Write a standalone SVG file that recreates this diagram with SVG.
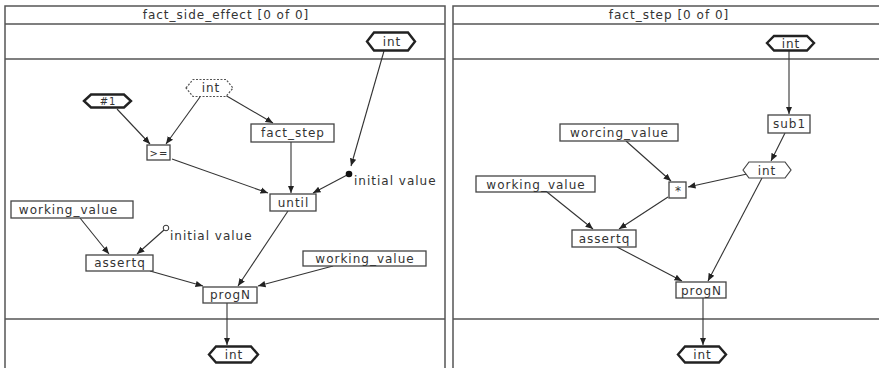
<svg xmlns="http://www.w3.org/2000/svg" width="879" height="368" viewBox="0 0 879 368">
<style>
  text { font-family: "DejaVu Sans", "Liberation Sans", sans-serif; font-size: 12px; fill: #333; letter-spacing: 1px; }
  .t { text-anchor: middle; }
  .frame { fill: none; stroke: #555; stroke-width: 1.5; }
  .box { fill: #fff; stroke: #444; stroke-width: 1.3; }
  .hexT { fill: #fff; stroke: #222; stroke-width: 2.4; }
  .hex { fill: #fff; stroke: #444; stroke-width: 1.2; }
  .hexD { fill: #fff; stroke: #555; stroke-width: 1.2; stroke-dasharray: 2 1.5; }
  .e { fill: none; stroke: #333; stroke-width: 1.1; marker-end: url(#arr); }
</style>
<defs>
  <marker id="arr" markerUnits="userSpaceOnUse" markerWidth="8" markerHeight="8" viewBox="0 0 8 8" refX="7.5" refY="4" orient="auto">
    <path d="M0,0.8 L7.5,4 L0,7.2 Z" fill="#222"/>
  </marker>
</defs>
<rect width="879" height="368" fill="#fff"/>

<g id="frames">
  <path class="frame" d="M5,368 V6 H445 V368 M5,24 H445 M5,59 H445 M5,319 H445"/>
  <path class="frame" d="M453,368 V6 H879 M453,24 H879 M453,59 H879 M453,319 H879"/>
  <text class="t" x="226" y="19">fact_side_effect [0 of 0]</text>
  <text class="t" x="669" y="19">fact_step [0 of 0]</text>
</g>

<g id="connectors">
  <!-- left -->
  <path class="e" d="M384,51 L351,166"/>
  <path class="e" d="M349,174 L313,193"/>
  <path class="e" d="M117,109 L150,144"/>
  <path class="e" d="M200,97 L166,144"/>
  <path class="e" d="M225,95 L273,123"/>
  <path class="e" d="M291,142 L291,193"/>
  <path class="e" d="M172,159 L268,193"/>
  <path class="e" d="M80,218 L109,254"/>
  <path class="e" d="M164,230 L137,254"/>
  <path class="e" d="M288,211 L238,286"/>
  <path class="e" d="M150,271 L203,286"/>
  <path class="e" d="M333,266 L258,286"/>
  <path class="e" d="M227,303 L227,345"/>
  <!-- right -->
  <path class="e" d="M789,51 L789,114"/>
  <path class="e" d="M785,133 L771,161"/>
  <path class="e" d="M747,174 L688,187"/>
  <path class="e" d="M626,141 L671,181"/>
  <path class="e" d="M547,192 L593,229"/>
  <path class="e" d="M668,197 L619,229"/>
  <path class="e" d="M762,178 L708,281"/>
  <path class="e" d="M617,247 L682,281"/>
  <path class="e" d="M703,298 L703,345"/>
</g>

<!-- left panel nodes -->
<g id="L_in_int">
  <polygon class="hexT" points="367,41.5 374,32.5 408,32.5 415,41.5 408,50.5 374,50.5"/>
  <text class="t" x="392" y="46">int</text>
</g>
<g id="L_const1">
  <polygon class="hexT" points="84,101 91,94.5 124,94.5 131,101 124,107.5 91,107.5"/>
  <text class="t" x="108" y="105" style="font-size:10px">#1</text>
</g>
<g id="L_dotted_int">
  <polygon class="hexD" points="186,88 193,79.5 226,79.5 233,88 226,96.5 193,96.5"/>
  <text class="t" x="211" y="92">int</text>
</g>
<g id="L_fact_step">
  <rect class="box" x="251" y="124" width="83" height="18"/>
  <text class="t" x="293" y="137">fact_step</text>
</g>
<g id="L_ge">
  <rect class="box" x="147" y="145" width="23" height="15"/>
  <text class="t" x="159" y="157" style="font-size:10px">&gt;=</text>
</g>
<g id="L_until">
  <rect class="box" x="270" y="194" width="46" height="17"/>
  <text class="t" x="293.5" y="207">until</text>
</g>
<g id="L_init_dot">
  <circle cx="349" cy="174" r="3.3" fill="#111"/>
  <text x="354" y="185">initial value</text>
</g>
<g id="L_working_value1">
  <rect class="box" x="11" y="201" width="122" height="17"/>
  <text class="t" x="68.5" y="214">working_value</text>
</g>
<g id="L_init_circle">
  <circle cx="166" cy="228" r="2.8" fill="#fff" stroke="#333" stroke-width="1"/>
  <text x="170" y="240">initial value</text>
</g>
<g id="L_assertq">
  <rect class="box" x="86" y="255" width="67" height="16"/>
  <text class="t" x="120" y="267">assertq</text>
</g>
<g id="L_working_value2">
  <rect class="box" x="303" y="251" width="123" height="15"/>
  <text class="t" x="365" y="263">working_value</text>
</g>
<g id="L_progN">
  <rect class="box" x="203" y="287" width="54" height="16"/>
  <text class="t" x="230.5" y="299">progN</text>
</g>
<g id="L_out_int">
  <polygon class="hexT" points="209,354.5 216,346.5 251,346.5 258,354.5 251,362.5 216,362.5"/>
  <text class="t" x="234" y="359">int</text>
</g>

<!-- right panel nodes -->
<g id="R_in_int">
  <polygon class="hexT" points="767,43 774,36 807,36 814,43 807,50.5 774,50.5"/>
  <text class="t" x="791" y="47.5">int</text>
</g>
<g id="R_sub1">
  <rect class="box" x="768" y="115" width="42" height="18"/>
  <text class="t" x="789.5" y="128">sub1</text>
</g>
<g id="R_int">
  <polygon class="hex" points="743,170 749,162 785,162 791,170 785,178 749,178"/>
  <text class="t" x="767" y="174.5">int</text>
</g>
<g id="R_worcing_value">
  <rect class="box" x="560" y="124" width="118" height="17"/>
  <text class="t" x="619.5" y="137">worcing_value</text>
</g>
<g id="R_working_value">
  <rect class="box" x="476" y="176" width="119" height="16"/>
  <text class="t" x="536" y="188.5">working_value</text>
</g>
<g id="R_mul">
  <rect class="box" x="669" y="182" width="17" height="16"/>
  <text class="t" x="678.5" y="195">*</text>
</g>
<g id="R_assertq">
  <rect class="box" x="572" y="230" width="64" height="17"/>
  <text class="t" x="604.5" y="243">assertq</text>
</g>
<g id="R_progN">
  <rect class="box" x="676" y="282" width="50" height="16"/>
  <text class="t" x="701.5" y="294.5">progN</text>
</g>
<g id="R_out_int">
  <polygon class="hexT" points="678,354.5 685,346.5 719,346.5 726,354.5 719,362.5 685,362.5"/>
  <text class="t" x="702.5" y="359">int</text>
</g>
</svg>
